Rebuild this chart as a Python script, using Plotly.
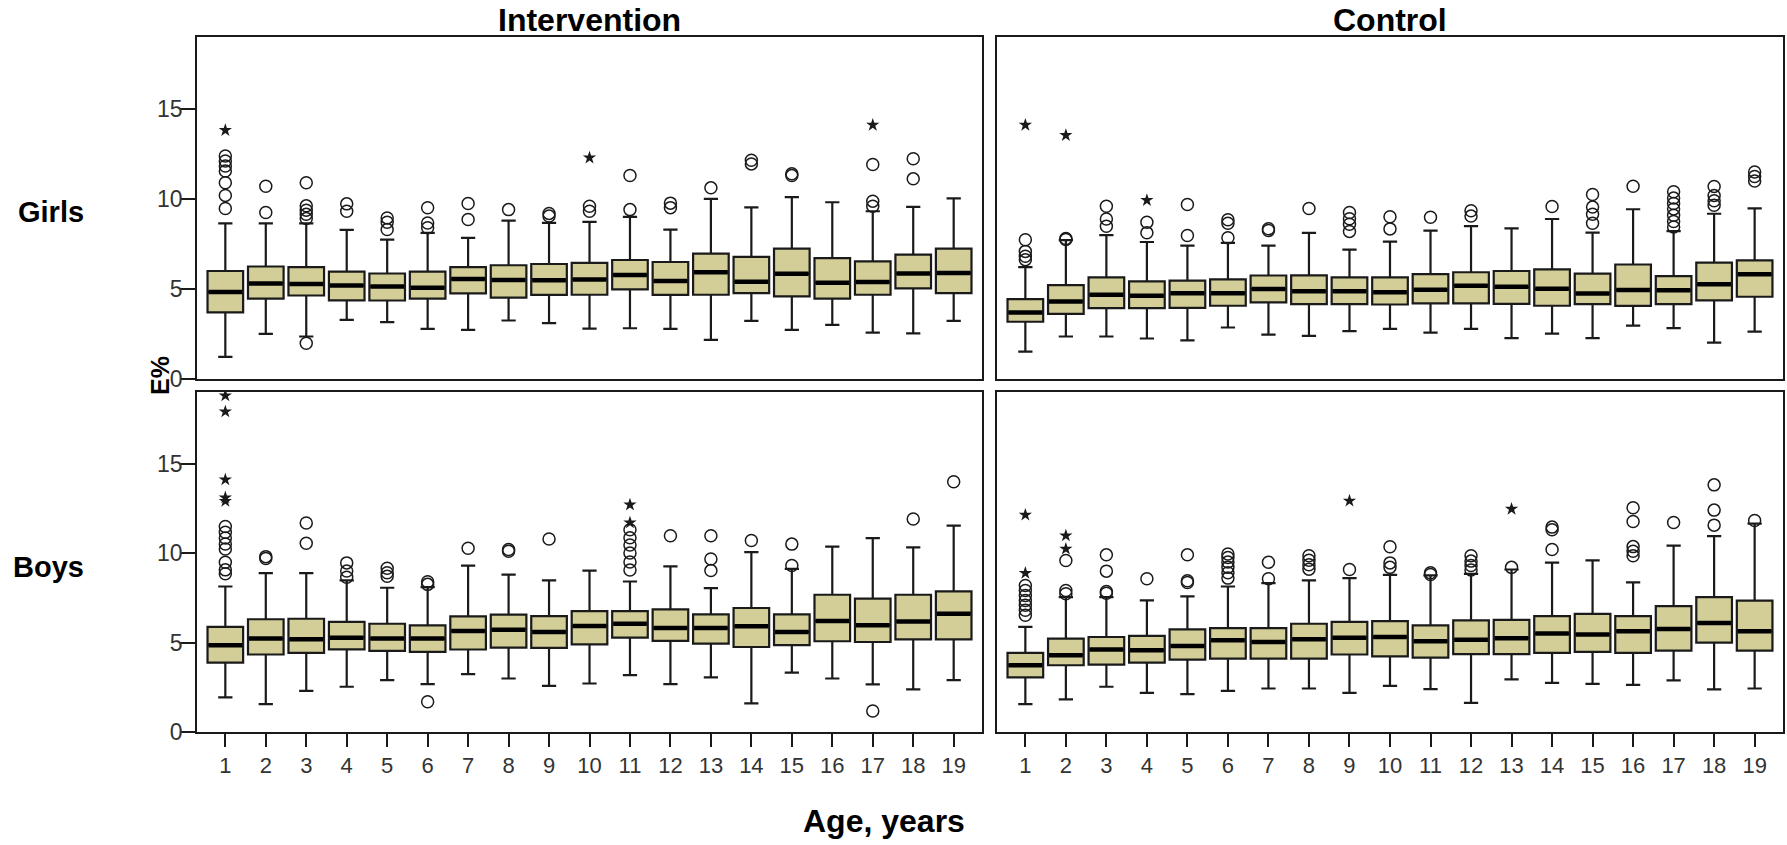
import plotly.graph_objects as go

ages = list(range(1, 20))
age_labels = [str(a) for a in ages]
y_ticks = [0, 5, 10, 15]

# ---------------- Intervention, Girls ----------------
ig_lo = [1.23, 2.51, 2.36, 3.29, 3.16, 2.79, 2.73, 3.25, 3.10, 2.80, 2.82, 2.79, 2.17, 3.23, 2.73, 3.01, 2.58, 2.54, 3.23]
ig_q1 = [3.70, 4.47, 4.64, 4.37, 4.36, 4.46, 4.76, 4.52, 4.67, 4.68, 4.98, 4.67, 4.68, 4.77, 4.59, 4.47, 4.68, 5.03, 4.77]
ig_med = [4.83, 5.31, 5.28, 5.20, 5.14, 5.07, 5.56, 5.50, 5.49, 5.53, 5.78, 5.44, 5.93, 5.40, 5.85, 5.35, 5.39, 5.86, 5.89]
ig_q3 = [6.00, 6.25, 6.21, 5.96, 5.86, 5.96, 6.21, 6.32, 6.39, 6.45, 6.61, 6.50, 6.96, 6.78, 7.24, 6.71, 6.54, 6.91, 7.24]
ig_hi = [8.65, 8.65, 8.65, 8.28, 7.74, 8.12, 7.84, 8.80, 8.67, 8.73, 9.01, 8.30, 10.01, 9.54, 10.10, 9.82, 9.32, 9.56, 10.03]
ig_out = [[12.39, 12.11, 11.83, 11.55, 10.90, 10.20, 9.47], [10.71, 9.25], [10.90, 9.62, 9.38, 9.15, 8.92, 1.99],
          [9.73, 9.32], [8.95, 8.71, 8.30], [9.51, 8.67, 8.40], [9.75, 8.86], [9.41], [9.20, 9.05],
          [9.60, 9.32], [11.31, 9.41], [9.77, 9.52], [10.62], [12.15, 11.95], [11.40, 11.30], [],
          [11.92, 9.88, 9.60], [12.24, 11.12], []]
ig_ext = [[13.82], [], [], [], [], [], [], [], [], [12.29], [], [], [], [], [], [], [14.11], [], []]

# ---------------- Control, Girls ----------------
cg_lo = [1.52, 2.36, 2.36, 2.25, 2.15, 2.86, 2.47, 2.40, 2.66, 2.79, 2.58, 2.79, 2.27, 2.52, 2.27, 2.96, 2.83, 2.02, 2.63]
cg_q1 = [3.18, 3.62, 3.94, 3.94, 3.95, 4.07, 4.26, 4.16, 4.16, 4.14, 4.20, 4.20, 4.17, 4.07, 4.16, 4.06, 4.16, 4.37, 4.57]
cg_med = [3.70, 4.31, 4.68, 4.62, 4.76, 4.76, 5.00, 4.87, 4.88, 4.82, 4.96, 5.18, 5.12, 5.01, 4.75, 4.95, 4.93, 5.26, 5.82]
cg_q3 = [4.44, 5.22, 5.65, 5.42, 5.47, 5.53, 5.75, 5.76, 5.65, 5.65, 5.83, 5.93, 6.00, 6.09, 5.85, 6.36, 5.72, 6.46, 6.59]
cg_hi = [6.22, 7.71, 7.99, 7.61, 7.41, 7.56, 7.41, 8.12, 7.19, 7.63, 8.24, 8.49, 8.37, 8.89, 8.13, 9.43, 8.21, 9.18, 9.48]
cg_out = [[7.74, 7.09, 6.82, 6.63], [7.80, 7.75], [9.60, 8.89, 8.49], [8.71, 8.12], [9.69, 7.97],
          [8.85, 8.65, 7.85], [8.35, 8.25], [9.47], [9.25, 8.90, 8.60, 8.20], [9.01, 8.34], [8.99],
          [9.35, 9.05], [], [9.58], [10.25, 9.55, 9.15, 8.65], [10.71],
          [10.40, 10.05, 9.75, 9.45, 9.10, 8.75, 8.45], [10.70, 10.20, 9.90, 9.65], [11.50, 11.25, 11.00]]
cg_ext = [[14.11], [13.54], [], [9.93], [], [], [], [], [], [], [], [], [], [], [], [], [], [], []]

# ---------------- Intervention, Boys ----------------
ib_lo = [1.93, 1.56, 2.30, 2.53, 2.90, 2.67, 3.23, 2.99, 2.58, 2.71, 3.18, 2.67, 3.05, 1.60, 3.32, 2.99, 2.66, 2.38, 2.90]
ib_q1 = [3.88, 4.33, 4.42, 4.62, 4.53, 4.48, 4.61, 4.72, 4.70, 4.90, 5.27, 5.09, 4.94, 4.75, 4.85, 5.07, 5.03, 5.18, 5.18]
ib_med = [4.85, 5.22, 5.18, 5.27, 5.22, 5.22, 5.65, 5.72, 5.59, 5.92, 6.05, 5.81, 5.81, 5.91, 5.59, 6.20, 5.96, 6.18, 6.61]
ib_q3 = [5.87, 6.30, 6.33, 6.15, 6.05, 5.96, 6.46, 6.56, 6.48, 6.76, 6.76, 6.85, 6.57, 6.93, 6.57, 7.67, 7.45, 7.67, 7.86]
ib_hi = [8.13, 8.88, 8.88, 8.47, 8.06, 8.10, 9.30, 8.80, 8.47, 9.02, 8.41, 9.25, 8.04, 10.05, 9.12, 10.36, 10.83, 10.32, 11.53]
ib_out = [[11.48, 11.16, 10.84, 10.51, 10.23, 9.49, 9.06, 8.84], [9.80, 9.70], [11.68, 10.55],
          [9.45, 9.00, 8.65], [9.15, 8.90, 8.70], [8.40, 8.25, 1.69], [10.27], [10.20, 10.10], [10.79],
          [], [11.30, 10.85, 10.45, 10.00, 9.50, 9.05], [10.97], [10.97, 9.67, 9.02], [10.70],
          [10.50, 9.30], [], [1.17], [11.90], [13.98]]
ib_ext = [[18.80, 17.90, 14.10, 13.10, 12.90], [], [], [], [], [], [], [], [], [], [12.70, 11.70],
          [], [], [], [], [], [], [], []]

# ---------------- Control, Boys ----------------
cb_lo = [1.56, 1.82, 2.53, 2.19, 2.12, 2.30, 2.43, 2.43, 2.19, 2.58, 2.40, 1.63, 2.94, 2.74, 2.69, 2.63, 2.89, 2.38, 2.43]
cb_q1 = [3.05, 3.73, 3.77, 3.88, 4.05, 4.10, 4.10, 4.10, 4.33, 4.23, 4.16, 4.35, 4.35, 4.42, 4.48, 4.42, 4.55, 4.99, 4.55]
cb_med = [3.73, 4.29, 4.61, 4.57, 4.81, 5.13, 5.03, 5.18, 5.26, 5.31, 5.07, 5.16, 5.24, 5.50, 5.45, 5.63, 5.75, 6.09, 5.63]
cb_q3 = [4.42, 5.22, 5.31, 5.37, 5.74, 5.81, 5.81, 6.05, 6.15, 6.20, 5.96, 6.24, 6.27, 6.47, 6.60, 6.47, 7.03, 7.54, 7.34]
cb_hi = [5.87, 7.54, 7.54, 7.35, 7.58, 8.13, 8.32, 8.47, 8.60, 8.78, 8.75, 8.84, 9.08, 9.46, 9.59, 8.36, 10.41, 10.95, 11.64]
cb_out = [[8.19, 7.91, 7.63, 7.35, 7.08, 6.80, 6.52], [9.58, 7.91, 7.73], [9.90, 8.99, 7.85, 7.75], [8.56],
          [9.90, 8.45, 8.35], [9.95, 9.75, 9.50, 9.20, 8.90, 8.60], [9.49, 8.56], [9.85, 9.60, 9.35, 9.10],
          [9.08], [10.35, 9.45, 9.20], [8.90, 8.80], [9.85, 9.55, 9.30, 9.05], [9.20],
          [11.45, 11.30, 10.20], [], [12.53, 11.76, 10.36, 10.10, 9.85], [11.71], [13.81, 12.40, 11.56], [11.82]]
cb_ext = [[12.13, 8.88], [10.97, 10.23], [], [], [], [], [], [], [12.92], [], [], [], [12.46], [], [], [],
          [], [], []]

panels = [
    ("x", "y", ig_lo, ig_q1, ig_med, ig_q3, ig_hi, ig_out, ig_ext),
    ("x2", "y2", cg_lo, cg_q1, cg_med, cg_q3, cg_hi, cg_out, cg_ext),
    ("x3", "y3", ib_lo, ib_q1, ib_med, ib_q3, ib_hi, ib_out, ib_ext),
    ("x4", "y4", cb_lo, cb_q1, cb_med, cb_q3, cb_hi, cb_out, cb_ext),
]

BOX_W = 0.88
FILL = "#D3CE97"
INK = "#1a1a1a"

fig = go.Figure()
for xa, ya, lo, q1, med, q3, hi, out, ext in panels:
    fig.add_trace(go.Box(
        x=ages, q1=q1, median=med, q3=q3, lowerfence=lo, upperfence=hi,
        xaxis=xa, yaxis=ya, width=BOX_W, whiskerwidth=0.4, boxpoints=False,
        fillcolor=FILL, line=dict(color=INK, width=2.2), hoverinfo="skip"))
    mx, my = [], []
    hw = BOX_W / 2 - 0.025
    for a, m in zip(ages, med):
        mx += [a - hw, a + hw, None]
        my += [m, m, None]
    fig.add_trace(go.Scatter(x=mx, y=my, xaxis=xa, yaxis=ya, mode="lines",
                             line=dict(color="black", width=4.5), hoverinfo="skip"))
    ox, oy, ex, ey = [], [], [], []
    for a, vals in zip(ages, out):
        ox += [a] * len(vals)
        oy += vals
    for a, vals in zip(ages, ext):
        ex += [a] * len(vals)
        ey += vals
    fig.add_trace(go.Scatter(x=ox, y=oy, xaxis=xa, yaxis=ya, mode="markers",
                             marker=dict(symbol="circle-open", size=12, color=INK,
                                         line=dict(width=1.5, color=INK)),
                             hoverinfo="skip"))
    fig.add_trace(go.Scatter(x=ex, y=ey, xaxis=xa, yaxis=ya, mode="markers",
                             marker=dict(symbol="star", size=10, color=INK),
                             hoverinfo="skip"))

W, H = 1787, 845
L, R, T, B = 197, 2, 37, 113
PW, PH = W - L - R, H - T - B


def px(xp):
    return (xp - L) / PW


def py(yp):
    return (H - B - yp) / PH


FONT = "Liberation Sans, Arial, sans-serif"
ytickfont = dict(family=FONT, size=23, color="#333")
xtickfont = dict(family=FONT, size=22, color="#333")
axis_common = dict(showgrid=False, zeroline=False, showline=True, mirror=True,
                   linecolor=INK, linewidth=1.5)

xl = [0, px(983)]
xr = [px(998), 1]
yt = [py(379), 1]
yb = [0, py(392)]

xa_top = dict(axis_common, range=[0.3, 19.7], showticklabels=False, ticks="")
xa_bot = dict(axis_common, range=[0.3, 19.7], tickmode="array", tickvals=ages, ticktext=age_labels,
              ticks="outside", ticklen=13, tickwidth=1.5, tickcolor=INK, tickfont=xtickfont)
ya_left = dict(axis_common, range=[0, 19], tickmode="array", tickvals=y_ticks,
               ticks="outside", ticklen=15, tickwidth=1.5, tickcolor=INK, tickfont=ytickfont,
               ticklabelstandoff=-7)
ya_right = dict(axis_common, range=[0, 19], showticklabels=False, ticks="")

title_font = dict(family=FONT, size=32, color="black")
row_font = dict(family=FONT, size=29, color="black")

fig.update_layout(
    width=W, height=H, margin=dict(l=L, r=R, t=T, b=B),
    paper_bgcolor="white", plot_bgcolor="white", showlegend=False,
    xaxis=dict(xa_top, domain=xl, anchor="y"),
    yaxis=dict(ya_left, domain=yt, anchor="x"),
    xaxis2=dict(xa_top, domain=xr, anchor="y2"),
    yaxis2=dict(ya_right, domain=yt, anchor="x2"),
    xaxis3=dict(xa_bot, domain=xl, anchor="y3"),
    yaxis3=dict(ya_left, domain=yb, anchor="x3"),
    xaxis4=dict(xa_bot, domain=xr, anchor="y4"),
    yaxis4=dict(ya_right, domain=yb, anchor="x4"),
    annotations=[
        dict(text="<b>Intervention</b>", x=(xl[0] + xl[1]) / 2, y=py(20), xref="paper", yref="paper",
             showarrow=False, font=title_font, xanchor="center", yanchor="middle"),
        dict(text="<b>Control</b>", x=(xr[0] + xr[1]) / 2, y=py(20), xref="paper", yref="paper",
             showarrow=False, font=title_font, xanchor="center", yanchor="middle"),
        dict(text="<b>Girls</b>", x=px(86), y=py(212), xref="paper", yref="paper",
             showarrow=False, font=row_font, xanchor="right", yanchor="middle"),
        dict(text="<b>Boys</b>", x=px(86), y=py(567), xref="paper", yref="paper",
             showarrow=False, font=row_font, xanchor="right", yanchor="middle"),
        dict(text="<b>E%</b>", x=px(160), y=py(376), xref="paper", yref="paper", textangle=-90,
             showarrow=False, font=dict(family=FONT, size=25, color="black"),
             xanchor="center", yanchor="middle"),
        dict(text="<b>Age, years</b>", x=px(885), y=py(821), xref="paper", yref="paper",
             showarrow=False, font=title_font, xanchor="center", yanchor="middle"),
    ],
)

fig.write_html("out.html", config={"displayModeBar": False},
               post_script="document.body.style.margin='0px';document.body.style.overflow='hidden';")
